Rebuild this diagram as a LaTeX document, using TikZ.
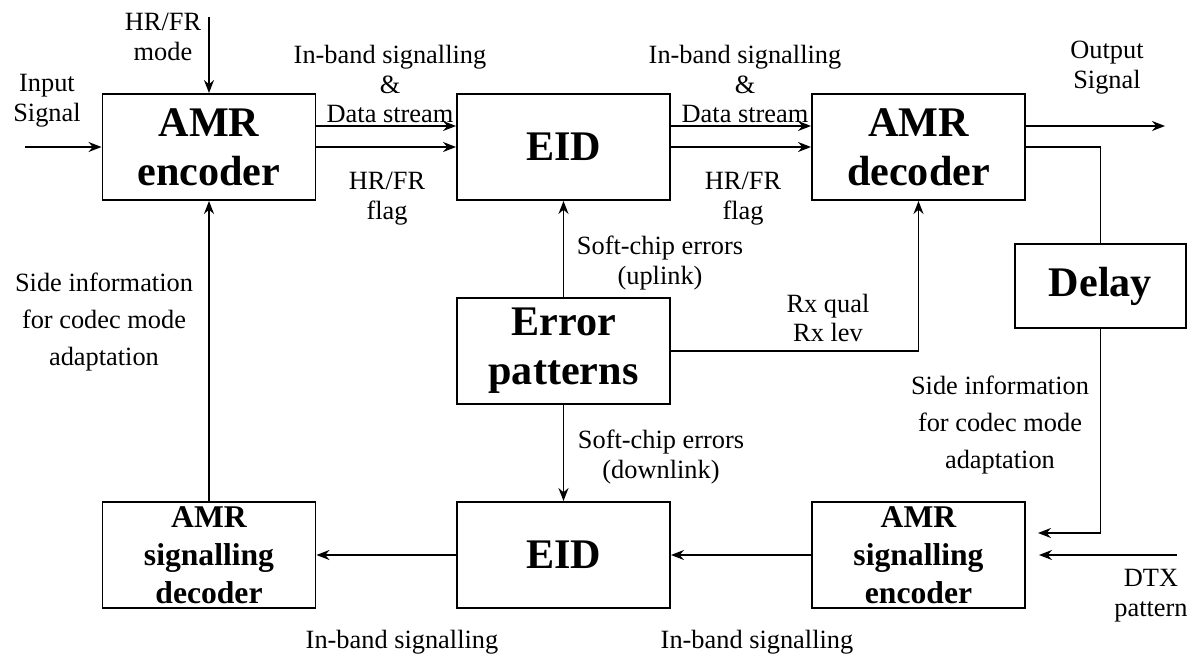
\documentclass[tikz,border=0pt]{standalone}
\usepackage{fontspec}
\setmainfont{Liberation Serif}
\usetikzlibrary{arrows.meta}

\begin{document}
\begin{tikzpicture}[
    blk/.style={draw, line width=1.1pt, minimum width=4.26cm, minimum height=2.12cm,
      inner sep=0pt, align=center, font=\fontsize{24}{28}\selectfont\bfseries},
    sblk/.style={blk, font=\fontsize{18}{21.5}\selectfont\bfseries},
    lbl/.style={align=center, font=\fontsize{15}{17}\selectfont},
    wlbl/.style={align=center, font=\fontsize{15}{21}\selectfont},
    sig/.style={-{Stealth[length=2.6mm, width=2mm]}, line width=0.9pt},
  ]
  \useasboundingbox (0,0) rectangle (23.92,-13.14);

  % Main speech path
  \node[blk] (enc) at (4.18,-2.94) {AMR\\encoder};
  \node[blk] (eidU) at (11.27,-2.94) {EID};
  \node[blk] (dec) at (18.37,-2.94) {AMR\\decoder};
  \node[blk, minimum width=3.42cm, minimum height=1.68cm] (delay) at (22.01,-5.72) {Delay};
  \node[blk] (err) at (11.27,-7.02) {Error\\patterns};

  % Signalling path
  \node[sblk] (sdec) at (4.18,-11.10) {AMR\\signalling\\decoder};
  \node[blk] (eidD) at (11.27,-11.10) {EID};
  \node[sblk] (senc) at (18.37,-11.10) {AMR\\signalling\\encoder};

  \coordinate (in) at (0.5,-2.94);
  \coordinate (mode) at (4.18,-0.34);
  \coordinate (out) at (23.3,-2.52);
  \coordinate (dtx) at (23.54,-11.10);

  % Connectors, top row
  \draw[sig] (in) -- (enc.west);
  \draw[sig] (mode) -- (enc.north);
  \draw[sig] ([yshift=4.2mm]enc.east) -- ([yshift=4.2mm]eidU.west);
  \draw[sig] (enc.east) -- (eidU.west);
  \draw[sig] ([yshift=4.2mm]eidU.east) -- ([yshift=4.2mm]dec.west);
  \draw[sig] (eidU.east) -- (dec.west);
  \draw[sig] ([yshift=4.2mm]dec.east) -- (out);
  \draw[line width=0.9pt] (dec.east) -| (delay.north);

  % Connectors, error patterns
  \draw[sig] (err.north) -- (eidU.south);
  \draw[sig] (err.south) -- (eidD.north);
  \draw[sig] (err.east) -| (dec.south);

  % Connectors, bottom row
  \draw[sig] (delay.south) |- ([xshift=2.4mm, yshift=4.4mm]senc.east);
  \draw[sig] (dtx) -- ([xshift=2.6mm]senc.east);
  \draw[sig] (senc.west) -- (eidD.east);
  \draw[sig] (eidD.west) -- (sdec.east);
  \draw[sig] (sdec.north) -- (enc.south);

  % Labels
  \node[lbl] (lmode) at (3.26,-0.74) {HR/FR\\mode};
  \node[lbl] (lin) at (0.94,-2.02) {Input\\Signal};
  \node[lbl] (ldata1) at (7.8,-1.68) {In-band signalling\\\&\\Data stream};
  \node[lbl] (ldata2) at (14.9,-1.68) {In-band signalling\\\&\\Data stream};
  \node[lbl] (lflag1) at (7.74,-3.98) {HR/FR\\flag};
  \node[lbl] (lflag2) at (14.86,-3.98) {HR/FR\\flag};
  \node[lbl] (lout) at (22.14,-1.36) {Output\\Signal};
  \node[lbl] (lup) at (13.2,-5.26) {Soft-chip errors\\(uplink)};
  \node[lbl] (lrx) at (16.56,-6.36) {Rx qual\\Rx lev};
  \node[lbl] (ldown) at (13.22,-9.14) {Soft-chip errors\\(downlink)};
  \node[wlbl] (lside1) at (2.08,-6.44) {Side information\\for codec mode\\adaptation};
  \node[wlbl] (lside2) at (20.0,-8.5) {Side information\\for codec mode\\adaptation};
  \node[lbl] (ldtx) at (23.02,-11.92) {DTX\\pattern};
  \node[lbl] (lband1) at (8.04,-12.84) {In-band signalling};
  \node[lbl] (lband2) at (15.14,-12.84) {In-band signalling};
\end{tikzpicture}
\end{document}
